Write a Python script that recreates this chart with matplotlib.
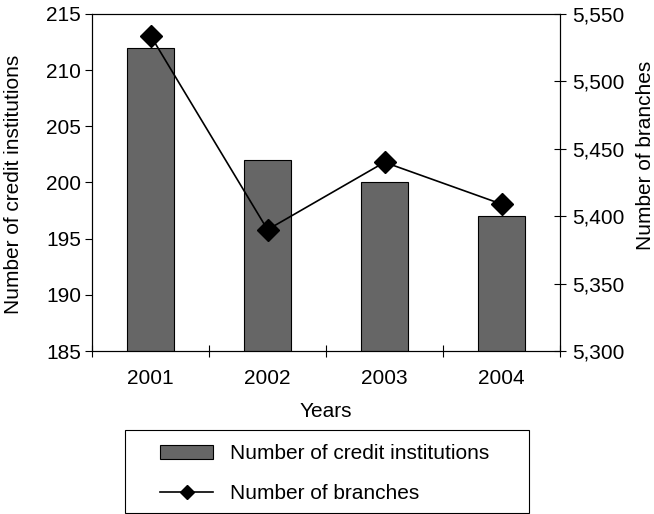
import matplotlib
matplotlib.use("Agg")
import matplotlib.pyplot as plt
from matplotlib.lines import Line2D
from matplotlib.patches import Patch, Rectangle
from matplotlib.ticker import FuncFormatter

years = ["2001", "2002", "2003", "2004"]
institutions = [212, 202, 200, 197]
branches = [5534, 5390, 5440, 5409]

plt.rcParams['font.family'] = ['Liberation Sans', 'DejaVu Sans']
plt.rcParams['font.size'] = 15

BAR_COLOR = '#666666'

fig = plt.figure(figsize=(6.54, 5.14), dpi=100)
ax = fig.add_axes([0.1407, 0.3171, 0.7156, 0.6557])
ax2 = ax.twinx()

x = list(range(len(years)))
ax.bar(x, institutions, width=0.4, color=BAR_COLOR, edgecolor='black', linewidth=0.8, zorder=2)
ax2.plot(x, branches, color='black', linewidth=1.2, marker='D', markersize=11.5, zorder=3)

ax.set_xlim(-0.5, len(years) - 0.5)
ax.set_ylim(185, 215)
ax.set_yticks(range(185, 216, 5))
ax2.set_ylim(5300, 5550)
ax2.set_yticks(range(5300, 5551, 50))
ax2.yaxis.set_major_formatter(FuncFormatter(lambda v, p: f'{v:,.0f}'))

# category boundaries get the tick marks, labels sit in between
ax.set_xticks([i - 0.5 for i in range(len(years) + 1)])
ax.set_xticklabels([])
ax.set_xticks(x, minor=True)
ax.set_xticklabels(years, minor=True)
ax.tick_params(axis='x', which='major', direction='inout', length=8, width=0.8)
ax.tick_params(axis='x', which='minor', length=0, pad=13)
ax.tick_params(axis='y', direction='out', length=5, width=0.8, pad=3)
ax2.tick_params(axis='y', direction='inout', length=8, width=0.8, pad=5)

for a in (ax, ax2):
    for s in a.spines.values():
        s.set_linewidth(0.8)

ax.set_xlabel('Years', labelpad=10)
ax.set_ylabel('Number of credit institutions')
ax.yaxis.set_label_coords(-0.147, 0.493)
ax2.set_ylabel('Number of branches')
ax2.yaxis.set_label_coords(1.162, 0.579)

# legend box drawn separately so the inner padding can differ per side
fig.add_artist(Rectangle((125 / 654, 1 / 514), 404 / 654, 83 / 514,
                         transform=fig.transFigure, fill=False,
                         edgecolor='black', linewidth=0.8))
handles = [
    Patch(facecolor=BAR_COLOR, edgecolor='black', linewidth=0.8),
    Line2D([], [], color='black', linewidth=1.2, marker='D', markersize=7),
]
labels = ['Number of credit institutions', 'Number of branches']
fig.legend(handles, labels, loc='upper left',
           bbox_to_anchor=(160 / 654, 0.136), borderaxespad=0, borderpad=0,
           frameon=False, handlelength=2.55, handleheight=0.65,
           handletextpad=0.8, labelspacing=1.0, fontsize=15)

fig.savefig('out.png', dpi=100)
